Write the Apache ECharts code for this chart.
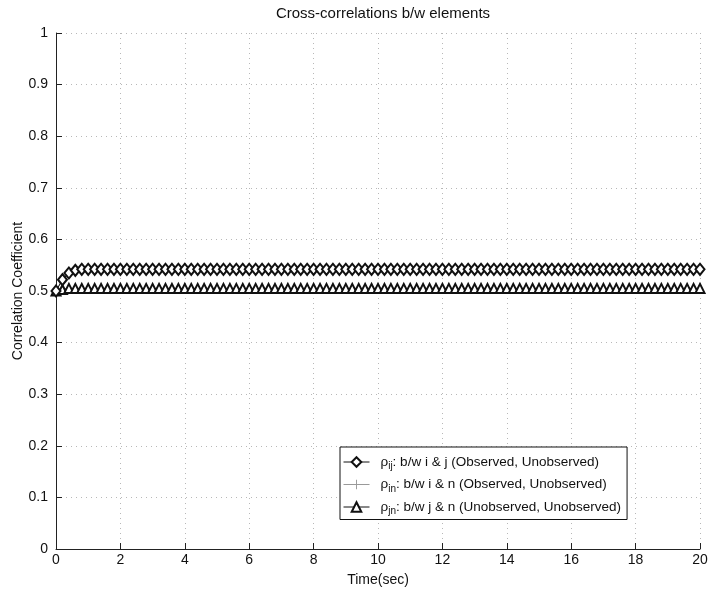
<!DOCTYPE html>
<html>
<head>
<meta charset="utf-8">
<script src="https://cdn.jsdelivr.net/npm/echarts@6/dist/echarts.min.js"></script>
<style>html,body{margin:0;padding:0;background:#fff;}#c{width:717px;height:591px;}</style>
</head>
<body>
<div id="c"></div>
<script>
var timeSec = [
  0.0, 0.2, 0.4, 0.6, 0.8, 1.0, 1.2, 1.4, 1.6, 1.8,
  2.0, 2.2, 2.4, 2.6, 2.8, 3.0, 3.2, 3.4, 3.6, 3.8,
  4.0, 4.2, 4.4, 4.6, 4.8, 5.0, 5.2, 5.4, 5.6, 5.8,
  6.0, 6.2, 6.4, 6.6, 6.8, 7.0, 7.2, 7.4, 7.6, 7.8,
  8.0, 8.2, 8.4, 8.6, 8.8, 9.0, 9.2, 9.4, 9.6, 9.8,
  10.0, 10.2, 10.4, 10.6, 10.8, 11.0, 11.2, 11.4, 11.6, 11.8,
  12.0, 12.2, 12.4, 12.6, 12.8, 13.0, 13.2, 13.4, 13.6, 13.8,
  14.0, 14.2, 14.4, 14.6, 14.8, 15.0, 15.2, 15.4, 15.6, 15.8,
  16.0, 16.2, 16.4, 16.6, 16.8, 17.0, 17.2, 17.4, 17.6, 17.8,
  18.0, 18.2, 18.4, 18.6, 18.8, 19.0, 19.2, 19.4, 19.6, 19.8,
  20.0
];
var rhoIJ = [
  0.500, 0.522, 0.535, 0.540, 0.542, 0.542, 0.542, 0.542, 0.542, 0.542,
  0.542, 0.542, 0.542, 0.542, 0.542, 0.542, 0.542, 0.542, 0.542, 0.542,
  0.542, 0.542, 0.542, 0.542, 0.542, 0.542, 0.542, 0.542, 0.542, 0.542,
  0.542, 0.542, 0.542, 0.542, 0.542, 0.542, 0.542, 0.542, 0.542, 0.542,
  0.542, 0.542, 0.542, 0.542, 0.542, 0.542, 0.542, 0.542, 0.542, 0.542,
  0.542, 0.542, 0.542, 0.542, 0.542, 0.542, 0.542, 0.542, 0.542, 0.542,
  0.542, 0.542, 0.542, 0.542, 0.542, 0.542, 0.542, 0.542, 0.542, 0.542,
  0.542, 0.542, 0.542, 0.542, 0.542, 0.542, 0.542, 0.542, 0.542, 0.542,
  0.542, 0.542, 0.542, 0.542, 0.542, 0.542, 0.542, 0.542, 0.542, 0.542,
  0.542, 0.542, 0.542, 0.542, 0.542, 0.542, 0.542, 0.542, 0.542, 0.542,
  0.542
];
var rhoIN = [
  0.500, 0.522, 0.535, 0.540, 0.542, 0.542, 0.542, 0.542, 0.542, 0.542,
  0.542, 0.542, 0.542, 0.542, 0.542, 0.542, 0.542, 0.542, 0.542, 0.542,
  0.542, 0.542, 0.542, 0.542, 0.542, 0.542, 0.542, 0.542, 0.542, 0.542,
  0.542, 0.542, 0.542, 0.542, 0.542, 0.542, 0.542, 0.542, 0.542, 0.542,
  0.542, 0.542, 0.542, 0.542, 0.542, 0.542, 0.542, 0.542, 0.542, 0.542,
  0.542, 0.542, 0.542, 0.542, 0.542, 0.542, 0.542, 0.542, 0.542, 0.542,
  0.542, 0.542, 0.542, 0.542, 0.542, 0.542, 0.542, 0.542, 0.542, 0.542,
  0.542, 0.542, 0.542, 0.542, 0.542, 0.542, 0.542, 0.542, 0.542, 0.542,
  0.542, 0.542, 0.542, 0.542, 0.542, 0.542, 0.542, 0.542, 0.542, 0.542,
  0.542, 0.542, 0.542, 0.542, 0.542, 0.542, 0.542, 0.542, 0.542, 0.542,
  0.542
];
var rhoJN = [
  0.500, 0.503, 0.505, 0.505, 0.505, 0.505, 0.505, 0.505, 0.505, 0.505,
  0.505, 0.505, 0.505, 0.505, 0.505, 0.505, 0.505, 0.505, 0.505, 0.505,
  0.505, 0.505, 0.505, 0.505, 0.505, 0.505, 0.505, 0.505, 0.505, 0.505,
  0.505, 0.505, 0.505, 0.505, 0.505, 0.505, 0.505, 0.505, 0.505, 0.505,
  0.505, 0.505, 0.505, 0.505, 0.505, 0.505, 0.505, 0.505, 0.505, 0.505,
  0.505, 0.505, 0.505, 0.505, 0.505, 0.505, 0.505, 0.505, 0.505, 0.505,
  0.505, 0.505, 0.505, 0.505, 0.505, 0.505, 0.505, 0.505, 0.505, 0.505,
  0.505, 0.505, 0.505, 0.505, 0.505, 0.505, 0.505, 0.505, 0.505, 0.505,
  0.505, 0.505, 0.505, 0.505, 0.505, 0.505, 0.505, 0.505, 0.505, 0.505,
  0.505, 0.505, 0.505, 0.505, 0.505, 0.505, 0.505, 0.505, 0.505, 0.505,
  0.505
];
var seriesNames = ['rho_ij', 'rho_in', 'rho_jn'];
var legendSubs = ['ij', 'in', 'jn'];
var legendTexts = [
  ': b/w i & j (Observed, Unobserved)',
  ': b/w i & n (Observed, Unobserved)',
  ': b/w j & n (Unobserved, Unobserved)'
];
var titleText = 'Cross-correlations b/w elements';
var xName = 'Time(sec)';
var yName = 'Correlation Coefficient';

function pairs(ys) {
  var out = [];
  for (var i = 0; i < timeSec.length; i++) out.push([timeSec[i], ys[i]]);
  return out;
}

var FONT = '"Liberation Sans", Arial, Helvetica, sans-serif';
var plusPath = 'path://M4.5,0H5.5V4.5H10V5.5H5.5V10H4.5V5.5H0V4.5H4.5Z';

var chart = echarts.init(document.getElementById('c'), null, {renderer: 'canvas'});
chart.setOption({
  backgroundColor: '#fff',
  animation: false,
  title: {
    text: titleText,
    left: 378,
    textAlign: 'center',
    top: 1,
    textStyle: {fontFamily: FONT, fontSize: 15, fontWeight: 'normal', color: '#111'}
  },
  grid: {left: 56, right: 17, top: 33, bottom: 42, containLabel: false, outerBoundsMode: 'none'},
  xAxis: {
    type: 'value',
    min: 0, max: 20, interval: 2,
    name: xName,
    nameLocation: 'middle',
    nameGap: 24,
    nameMoveOverlap: false,
    nameTextStyle: {fontFamily: FONT, fontSize: 14, color: '#111'},
    axisLine: {show: true, lineStyle: {color: '#222', width: 1}},
    axisTick: {show: true, inside: true, length: 6, lineStyle: {color: '#222'}},
    axisLabel: {fontFamily: FONT, fontSize: 14, color: '#111', margin: 4},
    splitLine: {show: true, lineStyle: {color: '#b8b8b8', type: [1, 4], width: 1}}
  },
  yAxis: {
    type: 'value',
    min: 0, max: 1, interval: 0.1,
    name: yName,
    nameLocation: 'middle',
    nameGap: 31,
    nameMoveOverlap: false,
    nameTextStyle: {fontFamily: FONT, fontSize: 14, color: '#111'},
    axisLine: {show: true, lineStyle: {color: '#222', width: 1}},
    axisTick: {show: true, inside: true, length: 6, lineStyle: {color: '#222'}},
    axisLabel: {fontFamily: FONT, fontSize: 14, color: '#111', margin: 8},
    splitLine: {show: true, lineStyle: {color: '#b8b8b8', type: [1, 4], width: 1}}
  },
  legend: {
    orient: 'vertical',
    left: 340,
    top: 447,
    itemWidth: 26,
    itemHeight: 12,
    itemGap: 6,
    padding: [8, 6, 3, 3],
    borderColor: '#111',
    borderWidth: 1,
    backgroundColor: '#fff',
    borderRadius: 0,
    itemStyle: {borderWidth: 1},
    lineStyle: {width: 1},
    data: seriesNames,
    formatter: function (name) {
      var i = seriesNames.indexOf(name);
      return '{r|ρ}{s|' + legendSubs[i] + '}{t|' + legendTexts[i] + '}';
    },
    textStyle: {
      fontFamily: FONT,
      fontSize: 13.5,
      color: '#111',
      rich: {
        r: {fontFamily: FONT, fontSize: 13.5, color: '#111', padding: [0, 0, 0, 6]},
        s: {fontFamily: FONT, fontSize: 10, color: '#111', padding: [9, 0, 0, 0]},
        t: {fontFamily: FONT, fontSize: 13.5, color: '#111'}
      }
    }
  },
  series: [
    {
      name: seriesNames[1],
      type: 'line',
      data: pairs(rhoIN),
      symbol: plusPath,
      symbolSize: 10,
      showAllSymbol: true,
      itemStyle: {color: '#999', borderWidth: 0},
      lineStyle: {color: '#999', width: 1},
      z: 1
    },
    {
      name: seriesNames[0],
      type: 'line',
      data: pairs(rhoIJ),
      symbol: 'emptyDiamond',
      symbolSize: [9, 11],
      showAllSymbol: true,
      itemStyle: {color: '#111', borderWidth: 1},
      lineStyle: {color: '#111', width: 1},
      z: 3
    },
    {
      name: seriesNames[2],
      type: 'line',
      data: pairs(rhoJN),
      symbol: 'emptyTriangle',
      symbolSize: [9, 9],
      showAllSymbol: true,
      itemStyle: {color: '#111', borderWidth: 1},
      lineStyle: {color: '#111', width: 1},
      z: 2
    }
  ]
});
</script>
</body>
</html>
